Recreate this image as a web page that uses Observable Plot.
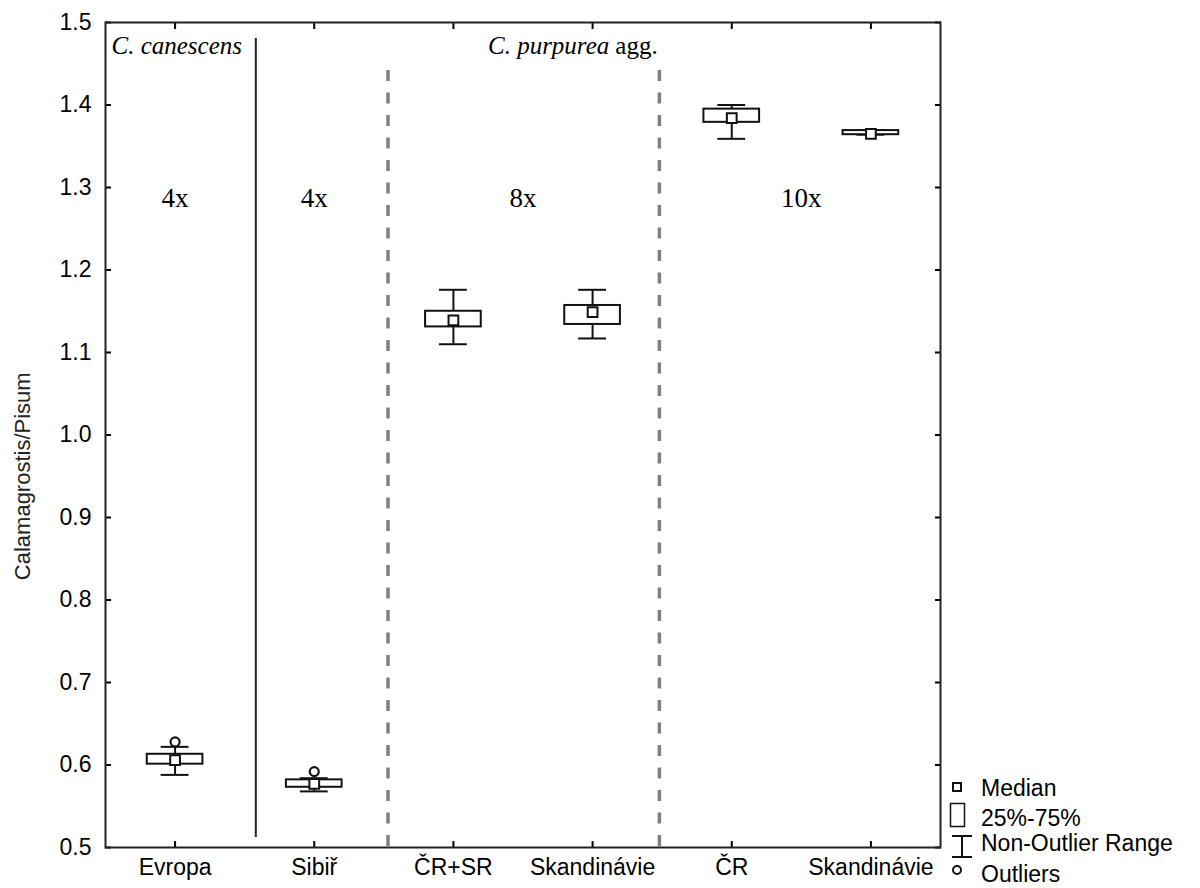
<!DOCTYPE html>
<html>
<head>
<meta charset="utf-8">
<script src="https://cdn.jsdelivr.net/npm/d3@7"></script>
<script src="https://cdn.jsdelivr.net/npm/@observablehq/plot@0.6"></script>
<style>
html, body { margin: 0; padding: 0; background: #fff; }
#wrap { position: relative; width: 1200px; height: 888px; overflow: hidden; background: #fff; }
#legend { position: absolute; left: 940px; top: 770px; }
</style>
</head>
<body>
<div id="wrap"><div id="chart"></div><svg id="legend" width="260" height="118"></svg></div>
<script>
// ---- data ----
const categories = ["Evropa", "Sibiř", "ČR+SR", "Skandinávie", "ČR", "Skandinávie"];
const whiskerLow  = [0.588, 0.568, 1.110, 1.117, 1.359, 1.364];
const q1          = [0.601, 0.573, 1.131, 1.134, 1.379, 1.364];
const median      = [0.606, 0.577, 1.139, 1.149, 1.384, 1.365];
const q3          = [0.613, 0.582, 1.150, 1.157, 1.395, 1.369];
const whiskerHigh = [0.622, 0.584, 1.176, 1.176, 1.400, 1.369];
const outlierGroup = [1, 2];
const outlierValue = [0.628, 0.592];
const ploidyLabels = ["4x", "4x", "8x", "10x"];
const ploidyGroups = [[1], [2], [3, 4], [5, 6]];
const yTicks = [0.5, 0.6, 0.7, 0.8, 0.9, 1.0, 1.1, 1.2, 1.3, 1.4, 1.5];
const yLabel = "Calamagrostis/Pisum";
const legendLabels = ["Median", "25%-75%", "Non-Outlier Range", "Outliers"];

// ---- layout constants ----
const positions = categories.map((_, i) => i + 1);
const BOX_HALF = 0.2, CAP_HALF = 0.1;
const solidDivider = [1.58];
const dashedDividers = [2.53, 4.48];
const serif = "'Liberation Serif', 'Times New Roman', serif";

const boxes = categories.map((c, i) => ({
  pos: i + 1, cat: c, lo: whiskerLow[i], q1: q1[i], med: median[i], q3: q3[i], hi: whiskerHigh[i]
}));
const outliers = outlierGroup.map((g, i) => ({pos: g, value: outlierValue[i]}));
const ploidy = ploidyLabels.map((t, i) => ({text: t, pos: d3.mean(ploidyGroups[i])}));

const chart = Plot.plot({
  width: 1200, height: 888,
  marginLeft: 105, marginRight: 260, marginTop: 22, marginBottom: 41,
  style: {fontFamily: "'Liberation Sans', Arial, sans-serif", fontSize: "23px", color: "#000", background: "#fff", overflow: "visible"},
  x: {type: "linear", domain: [0.5, 6.5]},
  y: {domain: [0.5, 1.5]},
  marks: [
    Plot.ruleX(solidDivider, {x: d => d, stroke: "#222", strokeWidth: 2, insetTop: 16, insetBottom: 10}),
    Plot.ruleX(dashedDividers, {x: d => d, stroke: "#808080", strokeWidth: 3.5, strokeDasharray: "11,11.5", insetTop: 48}),
    // whiskers
    Plot.ruleX(boxes, {x: "pos", y1: "lo", y2: "q1", stroke: "#111", strokeWidth: 2}),
    Plot.ruleX(boxes, {x: "pos", y1: "q3", y2: "hi", stroke: "#111", strokeWidth: 2}),
    Plot.ruleY(boxes, {y: "lo", x1: d => d.pos - CAP_HALF, x2: d => d.pos + CAP_HALF, stroke: "#111", strokeWidth: 2}),
    Plot.ruleY(boxes, {y: "hi", x1: d => d.pos - CAP_HALF, x2: d => d.pos + CAP_HALF, stroke: "#111", strokeWidth: 2}),
    // boxes
    Plot.rect(boxes, {x1: d => d.pos - BOX_HALF, x2: d => d.pos + BOX_HALF, y1: "q1", y2: "q3", fill: "#fff", stroke: "#111", strokeWidth: 2}),
    // medians
    Plot.dot(boxes, {x: "pos", y: "med", symbol: "square", r: 5.5, fill: "#fff", stroke: "#111", strokeWidth: 2}),
    // outliers
    Plot.dot(outliers, {x: "pos", y: "value", r: 4.5, fill: "#fff", stroke: "#111", strokeWidth: 2.2}),
    // axes
    Plot.axisY({anchor: "left", ticks: yTicks, tickFormat: d3.format(".1f"), tickSize: -6, tickPadding: 20, strokeWidth: 2, label: null}),
    Plot.axisY({anchor: "right", ticks: yTicks, tickFormat: () => "", tickSize: -6, strokeWidth: 2, label: null}),
    Plot.axisX({anchor: "bottom", ticks: positions, tickFormat: d => categories[d - 1], tickSize: -6, tickPadding: 17, strokeWidth: 2, label: null}),
    Plot.axisX({anchor: "top", ticks: positions, tickFormat: () => "", tickSize: -6, strokeWidth: 2, label: null}),
    // species labels
    Plot.text(["C. canescens"], {x: 0.5, frameAnchor: "top", text: d => d, textAnchor: "start", lineAnchor: "top", dx: 6, dy: 14, fontFamily: serif, fontStyle: "italic", fontSize: 25, fill: "#000"}),
    Plot.text(["C. purpurea"], {x: 4.12, frameAnchor: "top", text: d => d, textAnchor: "end", lineAnchor: "top", dy: 14, fontFamily: serif, fontStyle: "italic", fontSize: 25, fill: "#000"}),
    Plot.text(["agg."], {x: 4.12, frameAnchor: "top", text: d => d, textAnchor: "start", lineAnchor: "top", dx: 6, dy: 14, fontFamily: serif, fontSize: 25, fill: "#000"}),
    // ploidy labels
    Plot.text(ploidy, {x: "pos", y: 1.3, text: "text", lineAnchor: "top", fontFamily: serif, fontSize: 27, fill: "#000"}),
    // y label
    Plot.text([yLabel], {x: 0.5, y: 0.95, text: d => d, rotate: -90, dx: -83, fontSize: 22, fill: "#222"}),
    Plot.frame({stroke: "#222", strokeWidth: 2})
  ]
});
document.getElementById("chart").appendChild(chart);

// ---- legend ----
const lg = d3.select("#legend");
const ink = "#111";
lg.append("rect").attr("x", 13).attr("y", 13).attr("width", 8).attr("height", 8)
  .attr("fill", "#fff").attr("stroke", ink).attr("stroke-width", 2);
lg.append("rect").attr("x", 10.5).attr("y", 33.5).attr("width", 14).attr("height", 23)
  .attr("fill", "#fff").attr("stroke", ink).attr("stroke-width", 1.5);
lg.append("path").attr("d", "M12,66H32M22,66V87M12,87H32")
  .attr("fill", "none").attr("stroke", ink).attr("stroke-width", 2);
lg.append("circle").attr("cx", 17).attr("cy", 100).attr("r", 4)
  .attr("fill", "#fff").attr("stroke", ink).attr("stroke-width", 2);
const baselines = [26, 55.5, 80.5, 111.5];
lg.selectAll("text").data(legendLabels).join("text")
  .attr("x", 41).attr("y", (d, i) => baselines[i])
  .attr("font-family", "'Liberation Sans', Arial, sans-serif").attr("font-size", 23)
  .attr("fill", "#000").text(d => d);
</script>
</body>
</html>
